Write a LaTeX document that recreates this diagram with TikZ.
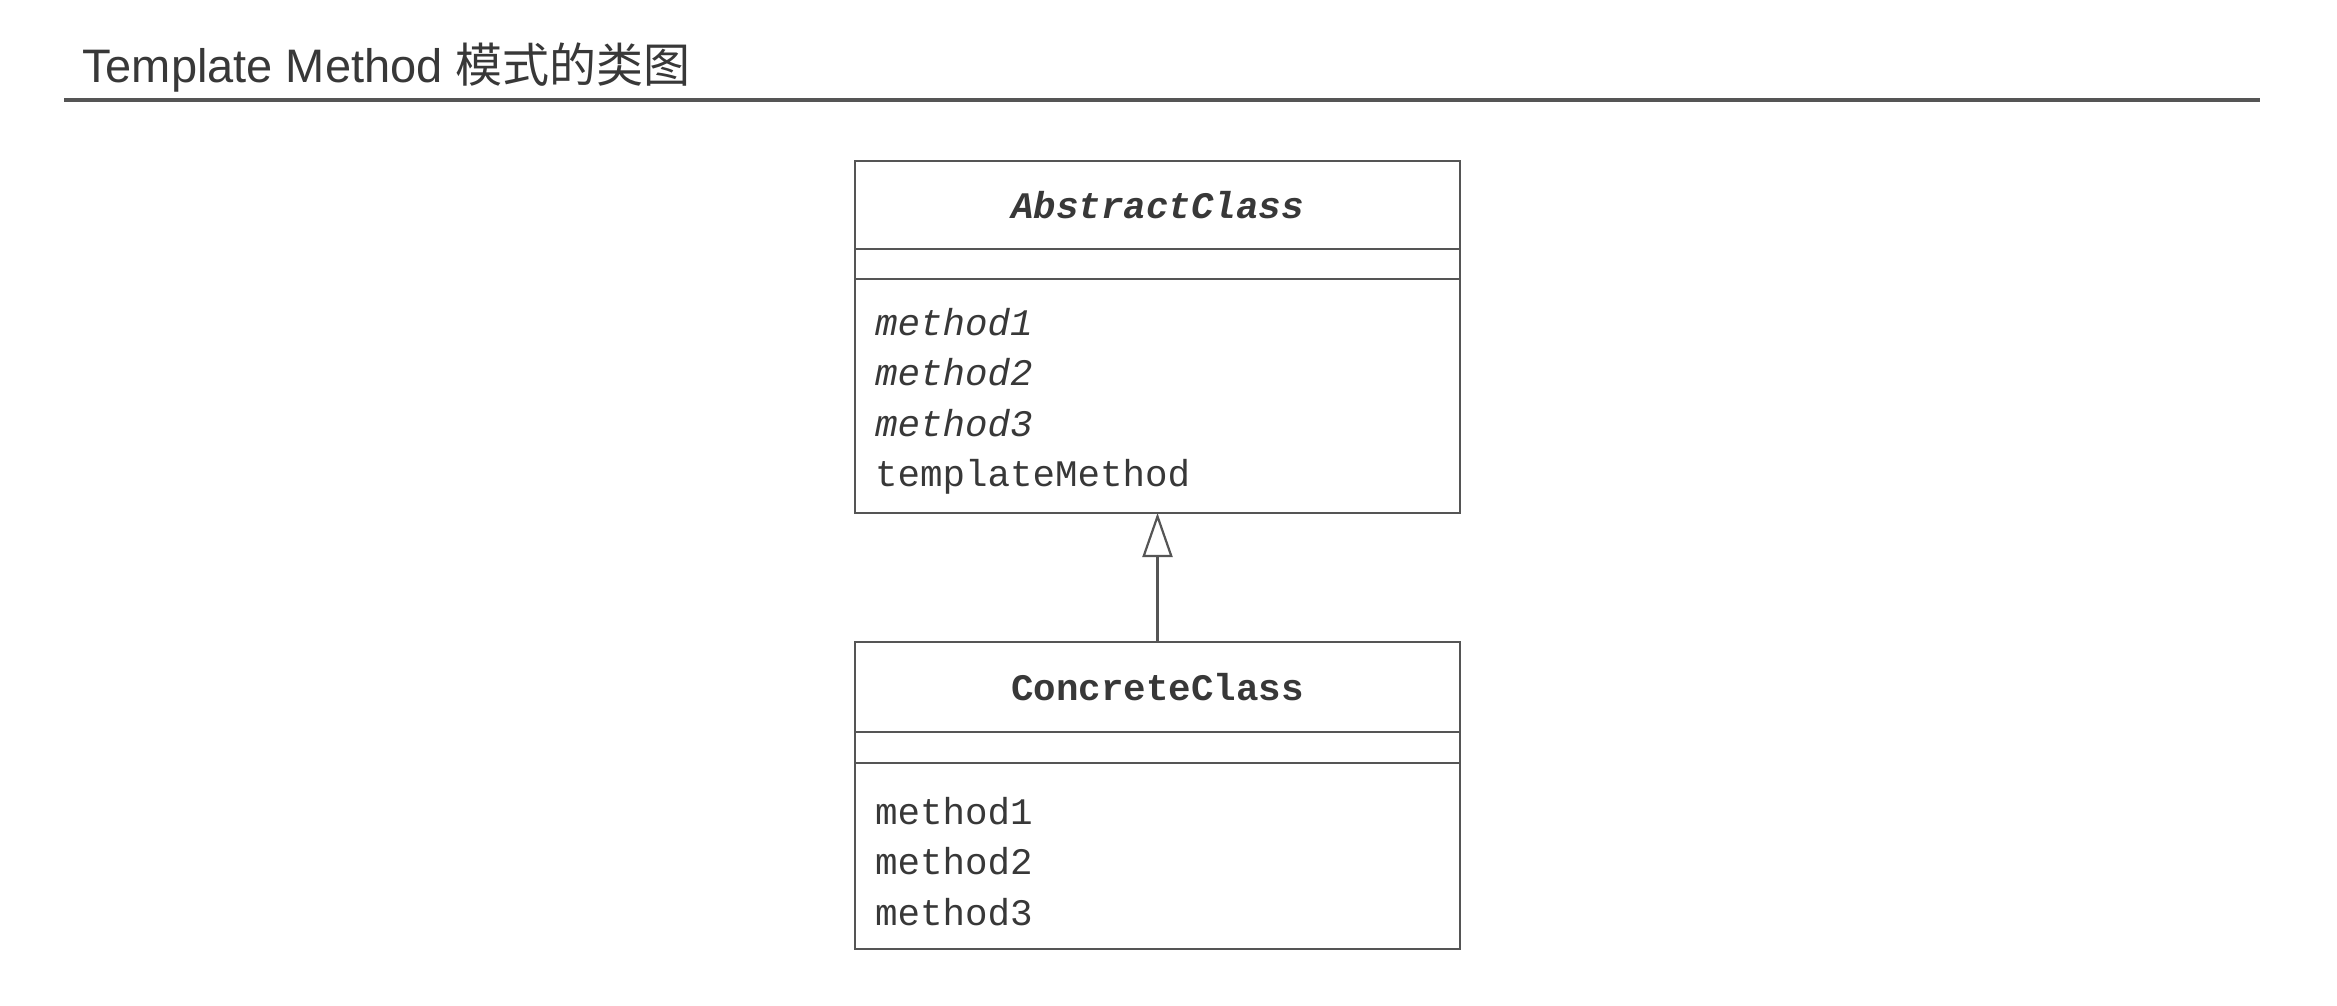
\documentclass[tikz,border=0pt]{standalone}
\usepackage{fontspec}
\setmainfont{Liberation Sans}
\setmonofont{Liberation Mono}
\newfontfamily\cjk{Noto Sans CJK SC}
\usetikzlibrary{positioning,arrows.meta}

\definecolor{inkgray}{HTML}{383838}
\definecolor{linegray}{HTML}{555555}
\newcommand{\firstline}{\rule{0pt}{38pt}}

\tikzset{
	classpart/.style={draw=linegray, line width=2.2pt, outer sep=0pt, minimum width=605pt, text=inkgray,
		font=\ttfamily\fontsize{37.5}{50.5}\selectfont},
	classname/.style={classpart, inner sep=0pt},
	classfields/.style={classpart, inner sep=0pt},
	classmethods/.style={classpart, align=left, text width=565pt, inner xsep=20pt, inner ysep=0pt},
	heading/.style={text=inkgray, inner sep=0pt, font=\fontsize{47}{56}\selectfont},
	headrule/.style={draw=linegray, line width=3.4pt},
	inherits/.style={draw=linegray, line width=2.2pt, -{Triangle[open, length=44pt, width=30pt, fill=white]}}
}

\begin{document}
\begin{tikzpicture}[x=1pt, y=-1pt]

		\useasboundingbox (0,0) rectangle (2337,1006);

		\node[heading, anchor=base west] (title) at (82,83) {Template Method {\cjk 模式的类图}};
		\coordinate (rule-left) at (64,100);
		\coordinate (rule-right) at (2260,100);
		\draw[headrule] (rule-left) -- (rule-right);

		\node[classname, minimum height=88pt, anchor=north] (abstract-name) at (1157.5,161) {\bfseries\itshape AbstractClass};
		\node[classfields, minimum height=30pt, below=0pt of abstract-name] (abstract-fields) {};
		\node[classmethods, minimum height=234pt, below=0pt of abstract-fields] (abstract-methods)
			{\firstline{\itshape method1}\\ {\itshape method2}\\ {\itshape method3}\\ templateMethod};

		\node[classname, minimum height=90pt, anchor=north] (concrete-name) at (1157.5,642) {\bfseries ConcreteClass};
		\node[classfields, minimum height=31pt, below=0pt of concrete-name] (concrete-fields) {};
		\node[classmethods, minimum height=186pt, below=0pt of concrete-fields] (concrete-methods)
			{\firstline method1\\ method2\\ method3};

		\draw[inherits] (concrete-name) -- (abstract-methods);

	\end{tikzpicture}
\end{document}
